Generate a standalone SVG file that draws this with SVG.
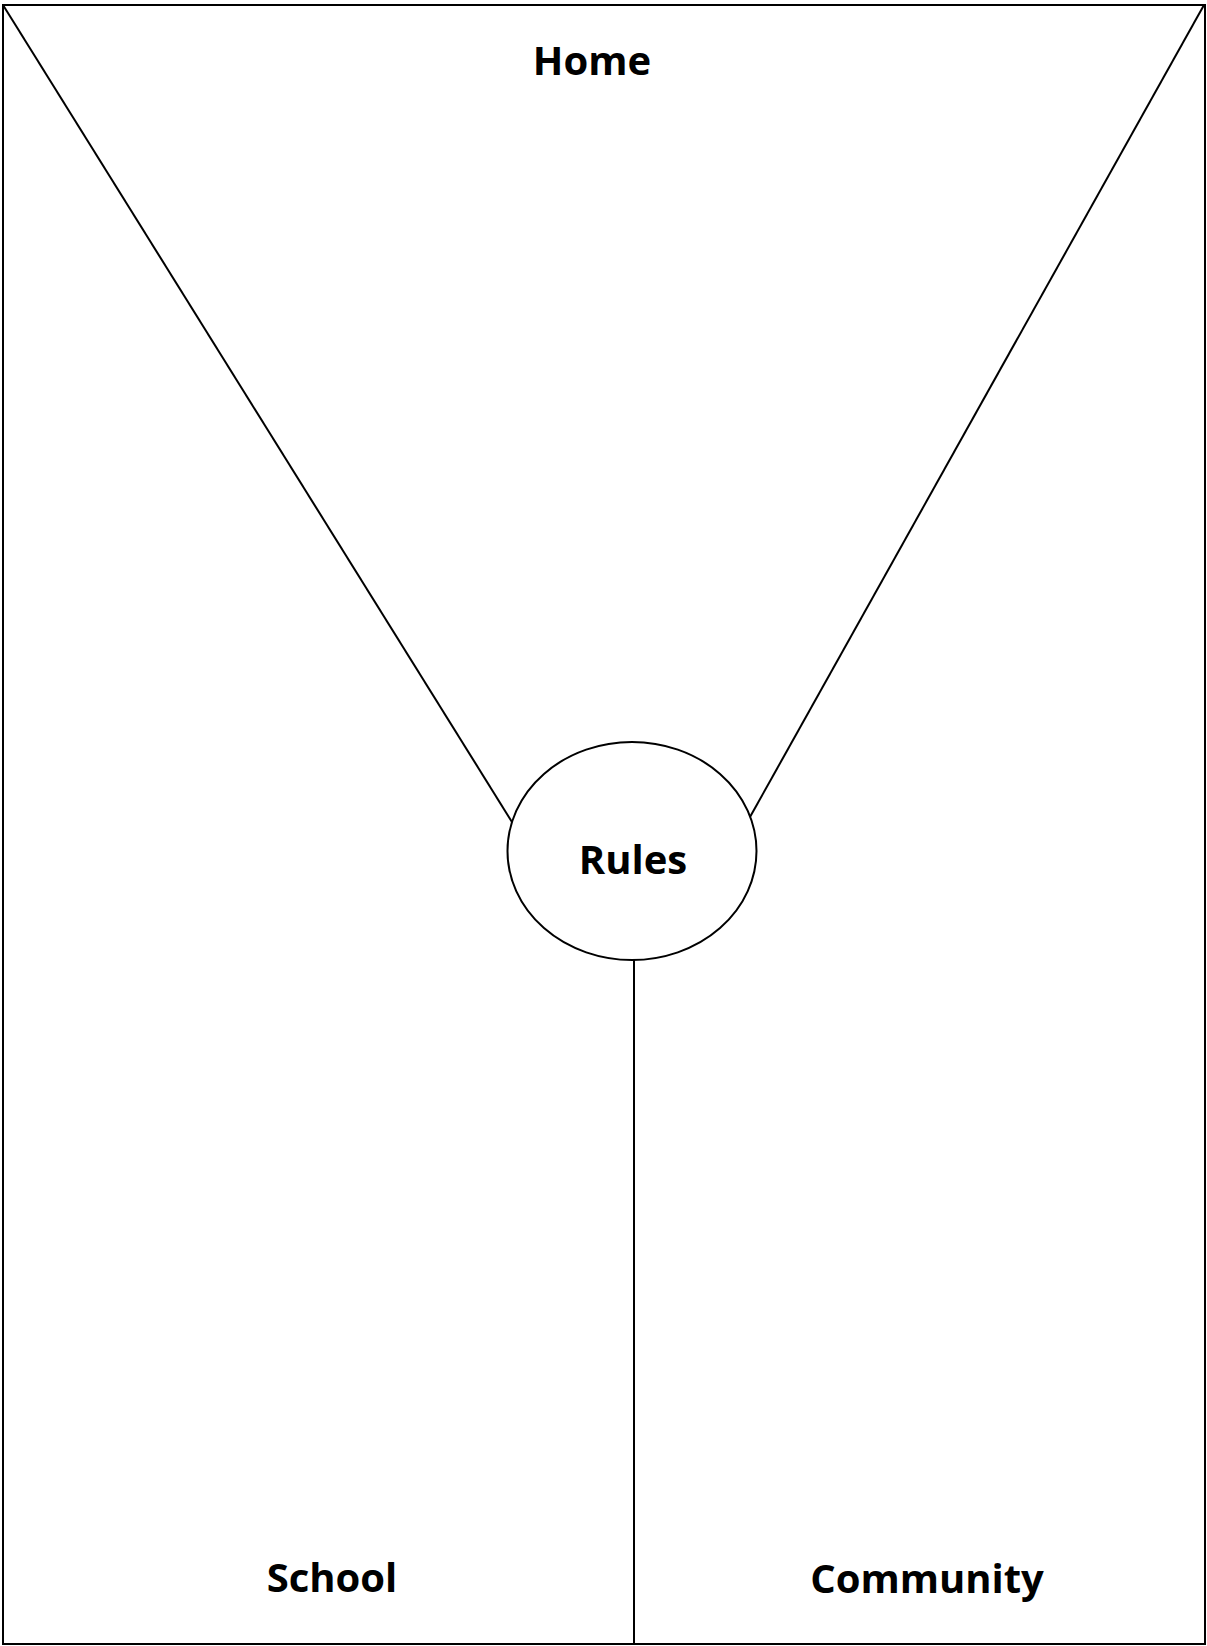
<svg xmlns="http://www.w3.org/2000/svg" width="1207" height="1646" viewBox="0 0 1207 1646">
<style>
.ln{stroke:#000;stroke-width:2;fill:none}
.lbl{font-family:"Open Sans","Liberation Sans",sans-serif;font-weight:bold;font-size:40px;fill:#000;text-anchor:middle}
</style>
<rect x="0" y="0" width="1207" height="1646" fill="#fff"/>
<g id="frame">
<rect class="ln" x="3" y="5" width="1202" height="1639"/>
</g>
<g id="connectors">
<line class="ln" x1="3" y1="5" x2="512" y2="822"/>
<line class="ln" x1="1204" y1="5" x2="750" y2="817"/>
<line class="ln" x1="634" y1="960" x2="634" y2="1644"/>
</g>
<g id="rules">
<ellipse class="ln" cx="632" cy="851" rx="124.5" ry="109"/>
<text class="lbl" x="633" y="874">Rules</text>
</g>
<g id="home"><text class="lbl" x="592" y="75">Home</text></g>
<g id="school"><text class="lbl" x="332" y="1592">School</text></g>
<g id="community"><text class="lbl" x="927" y="1593">Community</text></g>
</svg>
